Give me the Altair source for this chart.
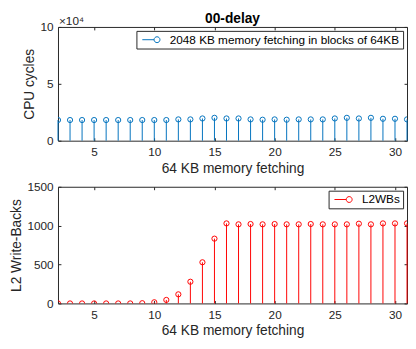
import altair as alt
import pandas as pd

x_vals = list(range(2, 32))
cpu_cycles = [18160, 18160, 18160, 18160, 18160, 18160, 18160, 18160, 18160, 18160,
              18720, 18720, 19550, 20110, 19550, 19550, 18720, 18440, 18720, 18440,
              18720, 18720, 18720, 19550, 20110, 19550, 20110, 19270, 19270, 18720]
l2_writebacks = [0, 0, 0, 0, 0, 0, 0, 3, 15, 45, 117, 279, 529, 833, 1029,
                 1017, 1021, 1017, 1021, 1017, 1017, 1021, 1017, 1017, 1017,
                 1025, 1017, 1029, 1029, 1029]
x_ticks = [5, 10, 15, 20, 25, 30]
cpu_ticks = [0, 50000, 100000]
wb_ticks = [0, 500, 1000, 1500]
cpu_label = "2048 KB memory fetching in blocks of 64KB"
wb_label = "L2WBs"
x_title = "64 KB memory fetching"
main_title = "00-delay"

FONT = "Liberation Sans"
AX = "#262626"
W = 356

legend_path = "M-1.8,0H0.6M1.8,0A0.6,0.6,0,1,1,0.6,0A0.6,0.6,0,1,1,1.8,0"


def panel(xs, ys, label, color, ydomain, yticks, ytitle, label_expr):
    df = pd.DataFrame({"x": xs, "y": ys, "s": [label] * len(xs)})
    xscale = alt.Scale(domain=[2, 31], nice=False, zero=False)
    yscale = alt.Scale(domain=ydomain, nice=False)
    base = alt.Chart(df)
    rules = base.mark_rule(color=color, strokeWidth=1).encode(
        x=alt.X("x:Q", scale=xscale,
                axis=alt.Axis(values=x_ticks, orient="bottom", offset=-3, tickSize=3,
                              domain=False, labelPadding=6, title=x_title, grid=False,
                              titlePadding=4, minExtent=0)),
        y=alt.Y("y:Q", scale=yscale,
                axis=alt.Axis(values=yticks, orient="left", offset=-3, tickSize=3,
                              domain=False, labelPadding=5, title=ytitle, grid=False,
                              titlePadding=4, labelExpr=label_expr, minExtent=0)),
        y2=alt.datum(0),
    )
    pts = base.mark_point(filled=False, size=28, strokeWidth=1, opacity=1, clip=True).encode(
        x=alt.X("x:Q", scale=xscale,
                axis=alt.Axis(values=x_ticks, orient="top", offset=-3, tickSize=3,
                              domain=False, labels=False, title=None, grid=False,
                              minExtent=0, maxExtent=0)),
        y=alt.Y("y:Q", scale=yscale,
                axis=alt.Axis(values=yticks, orient="right", offset=-3, tickSize=3,
                              domain=False, labels=False, title=None, grid=False,
                              minExtent=0, maxExtent=0)),
        stroke=alt.Stroke("s:N", scale=alt.Scale(domain=[label], range=[color]),
                          legend=alt.Legend(title=None, orient="top-right", offset=4,
                                            symbolType=legend_path, symbolSize=100,
                                            symbolStrokeWidth=1, symbolFillColor="transparent",
                                            strokeColor=AX, fillColor="white", padding=3,
                                            symbolOffset=6, labelOffset=13, labelLimit=400,
                                            labelFontSize=12, labelColor="black",
                                            labelFont=FONT, cornerRadius=0)),
    )
    return [rules, pts]


top_layers = panel(x_vals, cpu_cycles, cpu_label, "#0072BD", [0, 100000], cpu_ticks,
                   "CPU cycles", "datum.value / 10000")
annot = alt.Chart(alt.Data(values=[{"a": 1}]))
exp_text = annot.mark_text(align="left", baseline="alphabetic", fontSize=12, font=FONT,
                           color=AX).encode(x=alt.value(1), y=alt.value(-2),
                                            text=alt.value("×10⁴"))
title_text = annot.mark_text(align="center", baseline="alphabetic", fontSize=14, font=FONT,
                             fontWeight="bold", color="black").encode(
    x=alt.value(W / 2), y=alt.value(-4), text=alt.value(main_title))
top = alt.layer(*top_layers, exp_text, title_text).resolve_axis(
    x="independent", y="independent").properties(width=W, height=116)

bot_layers = panel(x_vals, l2_writebacks, wb_label, "#FF0000", [0, 1500], wb_ticks,
                   "L2 Write-Backs", "format(datum.value, 'd')")
bot = alt.layer(*bot_layers).resolve_axis(
    x="independent", y="independent").properties(width=W, height=119)

chart = alt.vconcat(top, bot, spacing=4, background="white", padding=0).resolve_scale(
    stroke="independent"
).resolve_legend(stroke="independent").configure_view(
    stroke=AX, strokeWidth=1
).configure_axis(
    labelFont=FONT, titleFont=FONT, labelFontSize=12, titleFontSize=14,
    labelColor=AX, titleColor=AX, tickColor=AX, titleFontWeight="normal"
)

chart.save("out.html", embed_options={"renderer": "svg", "actions": False})
